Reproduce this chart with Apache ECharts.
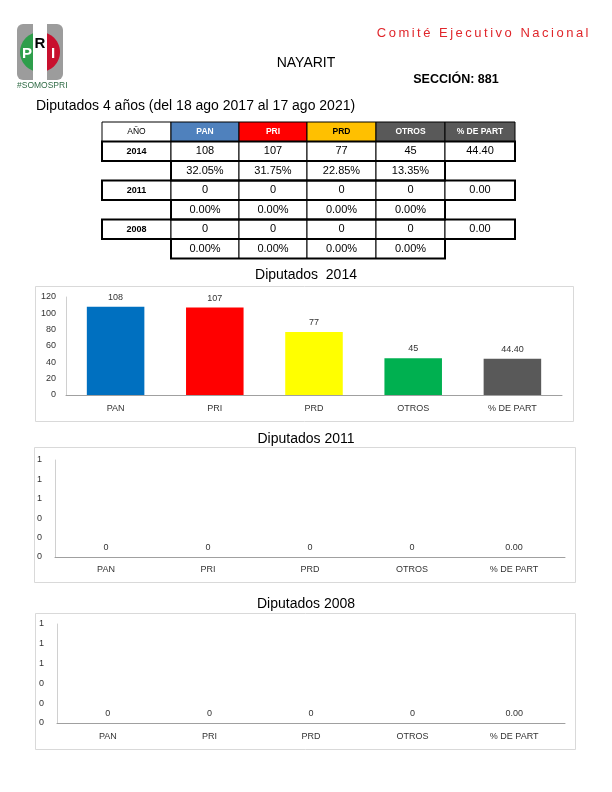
<!DOCTYPE html>
<html>
<head>
<meta charset="utf-8">
<script src="https://cdn.jsdelivr.net/npm/echarts@6/dist/echarts.min.js"></script>
<style>
html,body{margin:0;padding:0;background:#fff;}
#chart{width:612px;height:792px;position:absolute;left:0;top:0;}
#cen{position:absolute;right:21px;top:25px;font-family:'Liberation Sans',Arial,sans-serif;font-size:13px;letter-spacing:2.5px;color:#E0262B;white-space:nowrap;}
</style>
</head>
<body>
<div id="chart"></div>
<div id="cen">Comité Ejecutivo Nacional</div>
<script>
// ---- data ----
const parties = ['PAN', 'PRI', 'PRD', 'OTROS'];
const chartCategories = ['PAN', 'PRI', 'PRD', 'OTROS', '% DE PART'];
const years = ['2014', '2011', '2008'];
const votes2014 = [108, 107, 77, 45];
const part2014 = 44.40;
const pct2014 = [32.05, 31.75, 22.85, 13.35];
const votes2011 = [0, 0, 0, 0];
const part2011 = 0;
const pct2011 = [0, 0, 0, 0];
const votes2008 = [0, 0, 0, 0];
const part2008 = 0;
const pct2008 = [0, 0, 0, 0];
const chartTitles = ['Diputados  2014', 'Diputados 2011', 'Diputados 2008'];
const yTicks2014 = [0, 120, 20];
const yTicksEmpty = [0, 1, 0.2];

// ---- styles ----
const FONT = "'Liberation Sans', Arial, sans-serif";
const barColors = ['#0070C0', '#FF0000', '#FFFF00', '#00B050', '#595959'];
const headerColors = ['#4F81BD', '#FF0000', '#FFC000', '#595959', '#595959'];
const headerTextColors = ['#fff', '#fff', '#000', '#fff', '#fff'];

const yearVotes = [votes2014, votes2011, votes2008];
const yearPart = [part2014, part2011, part2008];
const yearPct = [pct2014, pct2011, pct2008];

const chart = echarts.init(document.getElementById('chart'), null, {renderer: 'canvas'});

const graphics = [];
function txt(x, y, s, size, opts) {
  opts = opts || {};
  graphics.push({
    type: 'text', x: x, y: y, z: 20,
    style: Object.assign({text: s, fontSize: size, fontFamily: FONT, fill: '#000',
      textAlign: 'center', textVerticalAlign: 'middle'}, opts)
  });
}
function rect(x, y, w, h, fill, stroke, lw, z) {
  graphics.push({type: 'rect', z: z || 10, shape: {x: x, y: y, width: w, height: h},
    style: {fill: fill, stroke: stroke, lineWidth: lw}});
}

// ---- logo ----
graphics.push({type: 'rect', z: 5, shape: {x: 17, y: 24, width: 46, height: 56, r: 6}, style: {fill: '#9C9C9C'}});
const cx = 40, cy = 52, R = 20, half = 7;
function segment(side) {
  const pts = [];
  const a0 = Math.acos(half / R);
  const n = 30;
  for (let i = 0; i <= n; i++) {
    const a = -a0 + (2 * a0) * i / n;
    pts.push([cx + side * R * Math.cos(a), cy + R * Math.sin(a)]);
  }
  return pts;
}
graphics.push({type: 'polygon', z: 6, shape: {points: segment(-1)}, style: {fill: '#2E9E4B'}});
graphics.push({type: 'polygon', z: 6, shape: {points: segment(1)}, style: {fill: '#C8102E'}});
graphics.push({type: 'rect', z: 6, shape: {x: cx - half, y: 24, width: half * 2, height: 56}, style: {fill: '#fff'}});
txt(27, 54, 'P', 15, {fontWeight: 'bold', fill: '#fff'});
txt(40, 44, 'R', 15, {fontWeight: 'bold', fill: '#000'});
txt(53, 54, 'I', 15, {fontWeight: 'bold', fill: '#fff'});
txt(17, 86, '#SOMOSPRI', 8.5, {textAlign: 'left', fill: '#2F6B45'});

// ---- header texts ----
txt(306, 63, 'NAYARIT', 14);
txt(456, 80, 'SECCIÓN: 881', 12.5, {fontWeight: 'bold'});
txt(36, 106, 'Diputados 4 años (del 18 ago 2017 al 17 ago 2021)', 14, {textAlign: 'left'});

// ---- table ----
const colX = [102, 171, 239, 307, 376, 445, 515];
const rowY = [122, 141.5, 161, 180.5, 200, 219.5, 239, 258.5];
const cmid = c => (colX[c] + colX[c + 1]) / 2;
const rmid = r => (rowY[r] + rowY[r + 1]) / 2;
// header row
for (let c = 0; c < 6; c++) {
  rect(colX[c], rowY[0], colX[c + 1] - colX[c], rowY[1] - rowY[0], c === 0 ? '#fff' : headerColors[c - 1], '#000', 1);
}
txt(cmid(0), rmid(0), 'AÑO', 8.5);
for (let c = 1; c < 6; c++) {
  txt(cmid(c), rmid(0), chartCategories[c - 1], 8.5, {fontWeight: 'bold', fill: headerTextColors[c - 1]});
}
for (let k = 0; k < years.length; k++) {
  const r = 1 + 2 * k, rp = r + 1;
  // year row
  for (let c = 0; c < 6; c++) {
    rect(colX[c], rowY[r], colX[c + 1] - colX[c], rowY[r + 1] - rowY[r], '#fff', '#000', 1);
  }
  rect(colX[0], rowY[r], colX[6] - colX[0], rowY[r + 1] - rowY[r], null, '#000', 2, 12);
  txt(cmid(0), rmid(r), years[k], 9, {fontWeight: 'bold'});
  for (let c = 0; c < 4; c++) txt(cmid(c + 1), rmid(r), String(yearVotes[k][c]), 11);
  txt(cmid(5), rmid(r), yearPart[k].toFixed(2), 11);
  // pct row
  for (let c = 1; c < 5; c++) {
    rect(colX[c], rowY[rp], colX[c + 1] - colX[c], rowY[rp + 1] - rowY[rp], '#fff', '#000', 1);
  }
  rect(colX[1], rowY[rp], colX[5] - colX[1], rowY[rp + 1] - rowY[rp], null, '#000', 2, 12);
  for (let c = 0; c < 4; c++) txt(cmid(c + 1), rmid(rp), yearPct[k][c].toFixed(2) + '%', 11);
}

// ---- chart boxes & titles ----
const boxes = [[35, 286, 538, 135], [34, 447, 541, 135], [35, 613, 540, 136]];
const titleY = [275, 439, 604];
boxes.forEach((b, i) => {
  graphics.push({type: 'rect', z: 1, shape: {x: b[0] + 0.5, y: b[1] + 0.5, width: b[2], height: b[3]},
    style: {fill: null, stroke: '#D9D9D9', lineWidth: 1}});
  txt(306, titleY[i], chartTitles[i], 14);
});

const grids = [
  {left: 66, top: 297, width: 496, height: 98},
  {left: 55, top: 460, width: 510, height: 97},
  {left: 57, top: 624, width: 508, height: 99}
];
const catMargins = [9, 8, 9];
const yLabelMargins = [10, 13, 13];
const tickSets = [yTicks2014, yTicksEmpty, yTicksEmpty];

const xAxes = [], yAxes = [], series = [];
for (let i = 0; i < 3; i++) {
  xAxes.push({
    type: 'category', gridIndex: i, data: chartCategories,
    axisLine: {show: true, lineStyle: {color: '#A0A0A0', width: 1}},
    axisTick: {show: false},
    axisLabel: {interval: 0, fontSize: 9, fontFamily: FONT, color: '#333333', margin: catMargins[i]}
  });
  yAxes.push({
    type: 'value', gridIndex: i, min: tickSets[i][0], max: tickSets[i][1], interval: tickSets[i][2],
    axisLine: {show: true, lineStyle: {color: '#D0D0D0', width: 1}},
    axisTick: {show: false},
    splitLine: {show: false},
    axisLabel: {fontSize: 9, fontFamily: FONT, color: '#333333', margin: yLabelMargins[i],
      formatter: v => String(Math.round(v))}
  });
  const vals = yearVotes[i].concat([yearPart[i]]);
  series.push({
    type: 'bar', xAxisIndex: i, yAxisIndex: i, barWidth: '58%',
    data: vals.map((v, j) => ({value: v, itemStyle: {color: barColors[j]}})),
    label: {show: true, position: 'top', distance: 5, fontSize: 9, fontFamily: FONT, color: '#333333',
      formatter: p => p.dataIndex === 4 ? Number(p.value).toFixed(2) : String(p.value)}
  });
}

chart.setOption({
  animation: false,
  backgroundColor: '#fff',
  grid: grids,
  xAxis: xAxes,
  yAxis: yAxes,
  series: series,
  graphic: {elements: graphics}
});
</script>
</body>
</html>
